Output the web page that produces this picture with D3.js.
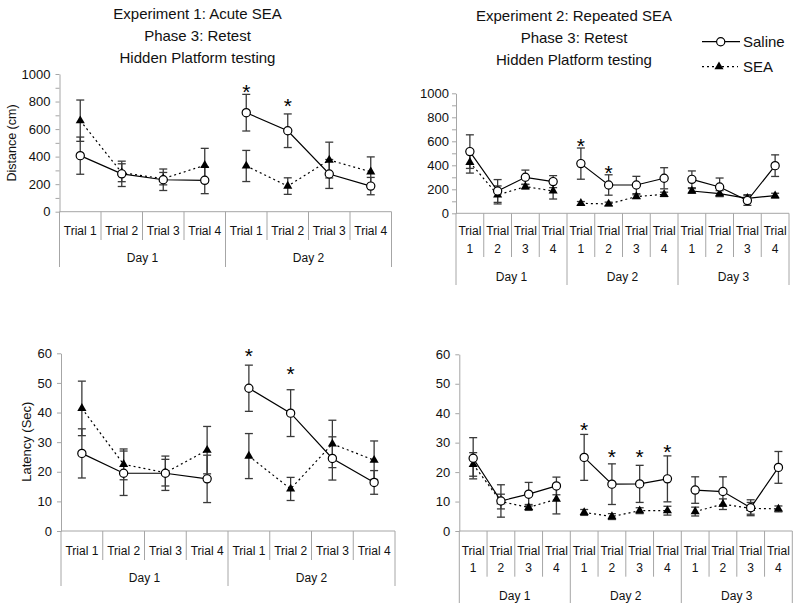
<!DOCTYPE html>
<html>
<head>
<meta charset="utf-8">
<script src="https://cdn.jsdelivr.net/npm/d3@7"></script>
<style>
  html, body { margin: 0; padding: 0; background: #fff; }
  svg { display: block; font-family: "Liberation Sans", Arial, sans-serif; }
</style>
</head>
<body>
<svg id="chart" width="800" height="611"></svg>
<script>
// ---------- DATA ----------
const trials2 = ["Trial 1", "Trial 2", "Trial 3", "Trial 4"];
const days2 = ["Day 1", "Day 2"];
const days3 = ["Day 1", "Day 2", "Day 3"];
const seriesNames = ["Saline", "SEA"];

const titleExp1 = ["Experiment 1: Acute SEA", "Phase 3: Retest", "Hidden Platform testing"];
const titleExp2 = ["Experiment 2: Repeated SEA", "Phase 3: Retest", "Hidden Platform testing"];

const distTicks = [0, 200, 400, 600, 800, 1000];
const latTicks = [0, 10, 20, 30, 40, 50, 60];

// Experiment 1 - Distance (cm)
const salineDist1 = [407, 275, 232, 228, 719, 588, 274, 186];
const salineDist1Err = [135, 92, 78, 97, 133, 122, 105, 63];
const seaDist1 = [661, 283, 240, 337, 332, 186, 375, 290];
const seaDist1Err = [150, 65, 45, 123, 113, 60, 130, 108];
const starDist1 = [null, null, null, null, 908, 806, null, null];

// Experiment 2 - Distance (cm)
const salineDist2 = [514, 186, 300, 264, 414, 236, 236, 292, 283, 219, 106, 397];
const salineDist2Err = [140, 95, 60, 50, 130, 85, 72, 88, 70, 75, 40, 90];
const seaDist2 = [425, 153, 222, 186, 83, 78, 139, 158, 186, 164, 125, 147];
const seaDist2Err = [90, 75, 20, 67, 15, 15, 15, 18, 20, 25, 30, 20];
const starDist2 = [null, null, null, null, 602, 380, null, null, null, null, null, null];

// Experiment 1 - Latency (Sec)
const salineLat1 = [26.2, 19.5, 19.5, 17.6, 48.2, 39.8, 24.5, 16.4];
const salineLat1Err = [8.3, 7.5, 5.8, 8, 7.8, 7.9, 7.3, 4];
const seaLat1 = [41.4, 22.5, 19.7, 27.3, 25.3, 14.2, 29.4, 23.9];
const seaLat1Err = [9.2, 5.2, 4.5, 8, 7.6, 3.9, 8, 6.5];
const starLat1 = [null, null, null, null, 60.8, 54.7, null, null];

// Experiment 2 - Latency (Sec)
const salineLat2 = [24.7, 10.2, 12.5, 15.3, 25, 15.9, 16, 17.7, 13.9, 13.4, 7.9, 21.6];
const salineLat2Err = [7, 5.5, 4, 3, 7.8, 6.9, 6.3, 7.8, 4.5, 5, 2.7, 5.4];
const seaLat2 = [22.6, 10, 8, 10.8, 6.3, 4.9, 6.9, 6.9, 6.6, 9.1, 7.7, 7.5];
const seaLat2Err = [4, 2.5, 1, 5, 1, 1, 1, 1.5, 1.5, 1.8, 2, 1];
const starLat2 = [null, null, null, null, 35.9, 26.8, 26.8, 28.6, null, null, null, null];

// ---------- DRAWING ----------
const svg = d3.select("#chart");
const FONT = "Liberation Sans, Arial, sans-serif";
const AXIS_COLOR = "#a6a6a6";
const ERR_COLOR = "#3a3a3a";

function drawTitle(lines, cx, y0) {
  lines.forEach((t, i) => {
    svg.append("text").attr("x", cx).attr("y", y0 + i * 22.3)
      .attr("text-anchor", "middle").attr("font-size", 15).attr("fill", "#111")
      .text(t);
  });
}

function drawPanel(p) {
  const n = p.saline.length;
  const days = p.days;
  const perDay = trials2.length;
  const x = d3.scaleBand().domain(d3.range(n)).range([p.x0, p.x1]).padding(0);
  const y = d3.scaleLinear().domain([0, p.max]).range([p.yZero, p.yTop]);
  const g = svg.append("g");

  // y axis
  const tickVals = d3.range(0, p.max + 1e-9, p.minor);
  const yAxis = d3.axisLeft(y).tickValues(tickVals).tickSize(4).tickSizeOuter(0)
    .tickPadding(p.tickPad)
    .tickFormat(v => (p.major.includes(v) ? v : ""));
  const ya = g.append("g").attr("transform", `translate(${p.x0},0)`).call(yAxis);
  ya.select(".domain").attr("stroke", AXIS_COLOR);
  ya.selectAll(".tick line").attr("stroke", AXIS_COLOR);
  ya.selectAll(".tick text").attr("font-size", 13).attr("font-family", FONT).attr("fill", "#111");

  // y axis title
  if (p.ylabel) {
    g.append("text")
      .attr("transform", `translate(${p.ylabelX},${p.ylabelY}) rotate(-90)`)
      .attr("text-anchor", "middle").attr("font-size", p.ylabelSize).attr("fill", "#111")
      .text(p.ylabel);
  }

  // x axis line
  g.append("line").attr("x1", p.x0).attr("x2", p.x1)
    .attr("y1", p.yZero).attr("y2", p.yZero).attr("stroke", AXIS_COLOR);

  // category dividers
  for (let i = 0; i <= n; i++) {
    const xx = i < n ? x(i) : p.x1;
    const isDay = i % perDay === 0;
    g.append("line").attr("x1", xx).attr("x2", xx)
      .attr("y1", p.yZero).attr("y2", isDay ? p.dayLineEnd : p.trialLineEnd)
      .attr("stroke", AXIS_COLOR);
  }

  // trial labels
  for (let i = 0; i < n; i++) {
    const lab = trials2[i % perDay];
    const cx = x(i) + x.bandwidth() / 2;
    if (p.wrapTrials) {
      const parts = lab.split(" ");
      g.append("text").attr("x", cx).attr("y", p.trialY).attr("text-anchor", "middle")
        .attr("font-size", p.catSize).attr("fill", "#111").text(parts[0]);
      g.append("text").attr("x", cx).attr("y", p.trialY2).attr("text-anchor", "middle")
        .attr("font-size", p.catSize).attr("fill", "#111").text(parts[1]);
    } else {
      g.append("text").attr("x", cx).attr("y", p.trialY).attr("text-anchor", "middle")
        .attr("font-size", p.catSize).attr("fill", "#111").text(lab);
    }
  }
  // day labels
  days.forEach((d, k) => {
    const cx = (x(k * perDay) + (k * perDay + perDay < n ? x(k * perDay + perDay) : p.x1)) / 2;
    g.append("text").attr("x", cx).attr("y", p.dayY).attr("text-anchor", "middle")
      .attr("font-size", p.catSize).attr("fill", "#111").text(d);
  });

  const cxOf = i => x(i) + x.bandwidth() / 2;

  // error bars
  const series = [
    { v: p.sea, e: p.seaErr, type: "sea" },
    { v: p.saline, e: p.salineErr, type: "saline" }
  ];
  series.forEach(s => {
    s.v.forEach((v, i) => {
      const cx = cxOf(i);
      const yt = y(v + s.e[i]), yb = y(v - s.e[i]);
      g.append("line").attr("x1", cx).attr("x2", cx).attr("y1", yt).attr("y2", yb)
        .attr("stroke", ERR_COLOR).attr("stroke-width", 1.3);
      [yt, yb].forEach(yy => {
        g.append("line").attr("x1", cx - 4).attr("x2", cx + 4).attr("y1", yy).attr("y2", yy)
          .attr("stroke", ERR_COLOR).attr("stroke-width", 1.3);
      });
    });
  });

  // lines, per day
  const line = d3.line().x(d => cxOf(d.i)).y(d => y(d.v));
  days.forEach((d, k) => {
    const idx = d3.range(k * perDay, k * perDay + perDay);
    const seaPts = idx.map(i => ({ i, v: p.sea[i] }));
    const salPts = idx.map(i => ({ i, v: p.saline[i] }));
    const solidSea = p.solidSeaDays && p.solidSeaDays.includes(k);
    g.append("path").attr("d", line(seaPts)).attr("fill", "none").attr("stroke", "#000")
      .attr("stroke-width", 1.2).attr("stroke-dasharray", solidSea ? null : "2,3");
    g.append("path").attr("d", line(salPts)).attr("fill", "none").attr("stroke", "#000")
      .attr("stroke-width", 1.2);
  });

  // markers
  const tri = d3.symbol().type(d3.symbolTriangle).size(36);
  p.sea.forEach((v, i) => {
    g.append("path").attr("d", tri()).attr("transform", `translate(${cxOf(i)},${y(v)})`)
      .attr("fill", "#000");
  });
  p.saline.forEach((v, i) => {
    g.append("circle").attr("cx", cxOf(i)).attr("cy", y(v)).attr("r", 4.1)
      .attr("fill", "#fff").attr("stroke", "#000").attr("stroke-width", 1.2);
  });

  // significance stars
  p.stars.forEach((v, i) => {
    if (v == null) return;
    g.append("text").attr("x", cxOf(i)).attr("y", y(v) + 12).attr("text-anchor", "middle")
      .attr("font-size", 21).attr("fill", "#000").text("*");
  });
}

// titles
drawTitle(titleExp1, 197.5, 18.5);
drawTitle(titleExp2, 574, 20.5);

// legend
(function legend() {
  const g = svg.append("g");
  g.append("line").attr("x1", 702).attr("x2", 740).attr("y1", 41.7).attr("y2", 41.7)
    .attr("stroke", "#000").attr("stroke-width", 1.2);
  g.append("circle").attr("cx", 720.7).attr("cy", 41.7).attr("r", 4.1)
    .attr("fill", "#fff").attr("stroke", "#000").attr("stroke-width", 1.2);
  g.append("text").attr("x", 743).attr("y", 47).attr("font-size", 15).attr("fill", "#111").text(seriesNames[0]);
  g.append("line").attr("x1", 702).attr("x2", 738).attr("y1", 66.7).attr("y2", 66.7)
    .attr("stroke", "#000").attr("stroke-width", 1.2).attr("stroke-dasharray", "2,3");
  g.append("path").attr("d", d3.symbol().type(d3.symbolTriangle).size(36)())
    .attr("transform", "translate(719,66.7)").attr("fill", "#000");
  g.append("text").attr("x", 743).attr("y", 72).attr("font-size", 15).attr("fill", "#111").text(seriesNames[1]);
})();

// panels
drawPanel({
  saline: salineDist1, salineErr: salineDist1Err, sea: seaDist1, seaErr: seaDist1Err, stars: starDist1,
  days: days2, max: 1000, minor: 100, major: distTicks, tickPad: 5,
  x0: 59.5, x1: 391.5, yTop: 74, yZero: 211.7,
  ylabel: "Distance (cm)", ylabelX: 16, ylabelY: 143, ylabelSize: 12.5,
  wrapTrials: false, catSize: 12, trialY: 234.5, trialLineEnd: 240, dayY: 261.5, dayLineEnd: 267
});
drawPanel({
  saline: salineDist2, salineErr: salineDist2Err, sea: seaDist2, seaErr: seaDist2Err, stars: starDist2,
  days: days3, max: 1000, minor: 100, major: distTicks, tickPad: 3, solidSeaDays: [2],
  x0: 456, x1: 789, yTop: 93.3, yZero: 213.3,
  ylabel: null,
  wrapTrials: true, catSize: 12, trialY: 235, trialY2: 252.5, trialLineEnd: 257, dayY: 280.5, dayLineEnd: 285
});
drawPanel({
  saline: salineLat1, salineErr: salineLat1Err, sea: seaLat1, seaErr: seaLat1Err, stars: starLat1,
  days: days2, max: 60, minor: 10, major: latTicks, tickPad: 5,
  x0: 61, x1: 395, yTop: 353.3, yZero: 531,
  ylabel: "Latency (Sec)", ylabelX: 31, ylabelY: 441.7, ylabelSize: 13,
  wrapTrials: false, catSize: 12, trialY: 554.5, trialLineEnd: 560, dayY: 581.5, dayLineEnd: 586
});
drawPanel({
  saline: salineLat2, salineErr: salineLat2Err, sea: seaLat2, seaErr: seaLat2Err, stars: starLat2,
  days: days3, max: 60, minor: 10, major: latTicks, tickPad: 5, solidSeaDays: [],
  x0: 459.3, x1: 792.3, yTop: 354.3, yZero: 531,
  ylabel: null,
  wrapTrials: true, catSize: 12, trialY: 554.5, trialY2: 572, trialLineEnd: 576.7, dayY: 599.5, dayLineEnd: 603
});
</script>
</body>
</html>
